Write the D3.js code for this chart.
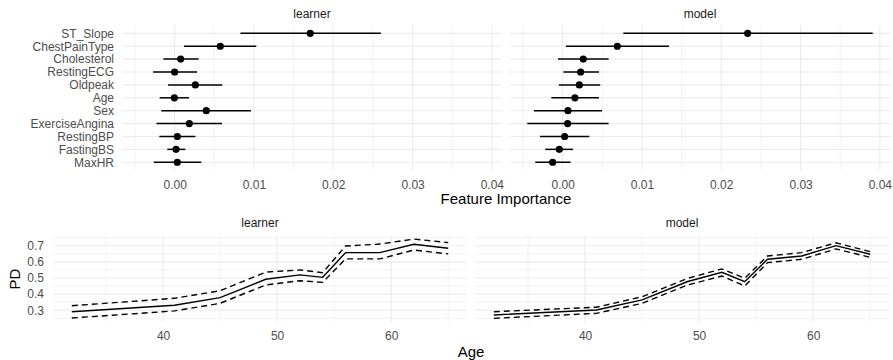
<!DOCTYPE html>
<head>
  <meta charset="utf-8">
  <script src="https://d3js.org/d3.v7.min.js"></script>
  <style>
    body { margin:0; background:#fff; }
    text { font-family: "Liberation Sans", Arial, sans-serif; }
    .tick text { fill:#4D4D4D; font-size:12px; }
    .strip { fill:#1A1A1A; font-size:12px; }
    .title { fill:#000; font-size:15px; }
  </style>
</head>
<body>
<div id="chart"></div>
<script>
  // feature importance data (top)
  var features = ["ST_Slope","ChestPainType","Cholesterol","RestingECG","Oldpeak","Age","Sex","ExerciseAngina","RestingBP","FastingBS","MaxHR"];
  var learnerImp = [0.0171, 0.00576, 0.00076, 0.0000, 0.00261, -0.00004, 0.00399, 0.00185, 0.00034, 0.00018, 0.00034];
  var learnerLo  = [0.0083, 0.00118, -0.00142, -0.00272, -0.00083, -0.00189, -0.00168, -0.0023, -0.00193, -0.00092, -0.00264];
  var learnerHi  = [0.0260, 0.01029, 0.00302, 0.00282, 0.00601, 0.00181, 0.00962, 0.00597, 0.00261, 0.00135, 0.00336];
  var modelImp = [0.02333, 0.00689, 0.0026, 0.00227, 0.0021, 0.00155, 0.00067, 0.00063, 0.00025, -0.00043, -0.00126];
  var modelLo  = [0.00765, 0.00042, -0.00059, 0.0001, -0.00047, -0.00143, -0.00362, -0.00446, -0.00286, -0.00219, -0.00345];
  var modelHi  = [0.0391, 0.0134, 0.0058, 0.00458, 0.00474, 0.00458, 0.00496, 0.0058, 0.00336, 0.0013, 0.00101];

  // partial dependence data (bottom)
  var ages = [32, 41, 45, 49, 52, 54, 56, 59, 62, 65];
  var learnerPD   = [0.291, 0.331, 0.378, 0.492, 0.519, 0.504, 0.657, 0.657, 0.709, 0.684];
  var learnerPDHi = [0.328, 0.374, 0.421, 0.536, 0.550, 0.533, 0.698, 0.710, 0.741, 0.719];
  var learnerPDLo = [0.252, 0.296, 0.343, 0.457, 0.483, 0.473, 0.618, 0.618, 0.673, 0.649];
  var modelPD   = [0.271, 0.302, 0.364, 0.478, 0.535, 0.477, 0.616, 0.636, 0.700, 0.647];
  var modelPDHi = [0.291, 0.319, 0.384, 0.498, 0.556, 0.498, 0.636, 0.657, 0.718, 0.663];
  var modelPDLo = [0.250, 0.281, 0.343, 0.457, 0.512, 0.450, 0.595, 0.616, 0.680, 0.628];

  var width = 893, height = 360;
  var grid = "#EBEBEB";

  var svg = d3.select("#chart").append("svg")
    .attr("width", width)
    .attr("height", height);

  //expand like ggplot (5% each side)
  function expand(lo, hi){
    var d = (hi - lo) * 0.05;
    return [lo - d, hi + d];
  }

  // ---------- top: feature importance ----------
  var impMin = d3.min(learnerLo.concat(modelLo));
  var impMax = d3.max(learnerHi.concat(modelHi));
  var impDomain = expand(impMin, impMax);
  var topY = d3.scalePoint().domain(features).range([25.6, 170]).padding(0.6);

  var topPanels = [
    {name:"learner", x0:122, x1:502, imp:learnerImp, lo:learnerLo, hi:learnerHi, ylab:true},
    {name:"model",   x0:510, x1:890, imp:modelImp,   lo:modelLo,   hi:modelHi,   ylab:false}
  ];

  topPanels.forEach(function(p){
    var x = d3.scaleLinear().domain(impDomain).range([p.x0, p.x1]);
    var g = svg.append("g");
    var majors = x.ticks(5);
    var minors = d3.range(-0.005, impDomain[1], 0.01).filter(function(v){ return v >= impDomain[0]; });
    g.selectAll(".vmin").data(minors).enter().append("line")
      .attr("x1", function(d){return x(d);}).attr("x2", function(d){return x(d);})
      .attr("y1", 25.6).attr("y2", 170)
      .attr("stroke", grid).attr("stroke-width", 0.6);
    g.selectAll(".vmaj").data(majors).enter().append("line")
      .attr("x1", function(d){return x(d);}).attr("x2", function(d){return x(d);})
      .attr("y1", 25.6).attr("y2", 170)
      .attr("stroke", grid).attr("stroke-width", 1.1);
    g.selectAll(".hmaj").data(features).enter().append("line")
      .attr("x1", p.x0).attr("x2", p.x1)
      .attr("y1", function(d){return topY(d);}).attr("y2", function(d){return topY(d);})
      .attr("stroke", grid).attr("stroke-width", 1.1);

    var rows = features.map(function(f, i){ return {f:f, v:p.imp[i], lo:p.lo[i], hi:p.hi[i]}; });
    g.selectAll(".bar").data(rows).enter().append("line")
      .attr("x1", function(d){return x(d.lo);}).attr("x2", function(d){return x(d.hi);})
      .attr("y1", function(d){return topY(d.f);}).attr("y2", function(d){return topY(d.f);})
      .attr("stroke", "#000").attr("stroke-width", 1.5);
    g.selectAll(".pt").data(rows).enter().append("circle")
      .attr("cx", function(d){return x(d.v);})
      .attr("cy", function(d){return topY(d.f);})
      .attr("r", 3.6).attr("fill", "#000");

    //axis labels
    var xa = svg.append("g").attr("transform", "translate(0,170)")
      .call(d3.axisBottom(x).tickValues(majors).tickFormat(d3.format(".2f")).tickSize(0).tickPadding(10));
    xa.select(".domain").remove();
    if (p.ylab) {
      var ya = svg.append("g").attr("transform", "translate(" + p.x0 + ",0)")
        .call(d3.axisLeft(topY).tickSize(0).tickPadding(8));
      ya.select(".domain").remove();
    }
    svg.append("text").attr("class", "strip")
      .attr("x", (p.x0 + p.x1) / 2).attr("y", 18)
      .attr("text-anchor", "middle").text(p.name);
  });

  svg.append("text").attr("class", "title")
    .attr("x", 506).attr("y", 204).attr("text-anchor", "middle")
    .text("Feature Importance");

  // ---------- bottom: partial dependence ----------
  var pdAll = learnerPDLo.concat(learnerPDHi, modelPDLo, modelPDHi);
  var yB = d3.scaleLinear().domain(expand(d3.min(pdAll), d3.max(pdAll))).range([322.3, 235.1]);
  var ageDomain = expand(d3.min(ages), d3.max(ages));
  var yTop = yB.range()[1], yBot = yB.range()[0];

  var botPanels = [
    {name:"learner", x0:53, x1:467, pd:learnerPD, lo:learnerPDLo, hi:learnerPDHi, ylab:true},
    {name:"model",   x0:475, x1:889, pd:modelPD,  lo:modelPDLo,  hi:modelPDHi,  ylab:false}
  ];

  botPanels.forEach(function(p){
    var x = d3.scaleLinear().domain(ageDomain).range([p.x0, p.x1]);
    var g = svg.append("g");
    var xMaj = [40, 50, 60];
    var xMin = [35, 45, 55, 65];
    var yMaj = [0.3, 0.4, 0.5, 0.6, 0.7];
    var yMin = [0.25, 0.35, 0.45, 0.55, 0.65, 0.75];
    g.selectAll(".hmin").data(yMin).enter().append("line")
      .attr("x1", p.x0).attr("x2", p.x1)
      .attr("y1", function(d){return yB(d);}).attr("y2", function(d){return yB(d);})
      .attr("stroke", grid).attr("stroke-width", 0.6);
    g.selectAll(".hmaj").data(yMaj).enter().append("line")
      .attr("x1", p.x0).attr("x2", p.x1)
      .attr("y1", function(d){return yB(d);}).attr("y2", function(d){return yB(d);})
      .attr("stroke", grid).attr("stroke-width", 1.1);
    g.selectAll(".vmin").data(xMin).enter().append("line")
      .attr("x1", function(d){return x(d);}).attr("x2", function(d){return x(d);})
      .attr("y1", yTop).attr("y2", yBot)
      .attr("stroke", grid).attr("stroke-width", 0.6);
    g.selectAll(".vmaj").data(xMaj).enter().append("line")
      .attr("x1", function(d){return x(d);}).attr("x2", function(d){return x(d);})
      .attr("y1", yTop).attr("y2", yBot)
      .attr("stroke", grid).attr("stroke-width", 1.1);

    var line = d3.line()
      .x(function(d){return x(d[0]);})
      .y(function(d){return yB(d[1]);});
    [[p.hi, "6,4"], [p.lo, "6,4"], [p.pd, null]].forEach(function(s){
      g.append("path")
        .attr("d", line(ages.map(function(a, i){ return [a, s[0][i]]; })))
        .attr("fill", "none").attr("stroke", "#000").attr("stroke-width", 1.4)
        .attr("stroke-dasharray", s[1]);
    });

    var xa = svg.append("g").attr("transform", "translate(0," + yBot + ")")
      .call(d3.axisBottom(x).tickValues(xMaj).tickSize(0).tickPadding(9));
    xa.select(".domain").remove();
    if (p.ylab) {
      var ya = svg.append("g").attr("transform", "translate(" + p.x0 + ",0)")
        .call(d3.axisLeft(yB).tickValues(yMaj).tickFormat(d3.format(".1f")).tickSize(0).tickPadding(9));
      ya.select(".domain").remove();
    }
    svg.append("text").attr("class", "strip")
      .attr("x", (p.x0 + p.x1) / 2).attr("y", 227)
      .attr("text-anchor", "middle").text(p.name);
  });

  svg.append("text").attr("class", "title")
    .attr("x", 471).attr("y", 357).attr("text-anchor", "middle")
    .text("Age");
  svg.append("text").attr("class", "title")
    .attr("transform", "translate(20,279) rotate(-90)")
    .attr("text-anchor", "middle")
    .text("PD");
</script>
</body>
